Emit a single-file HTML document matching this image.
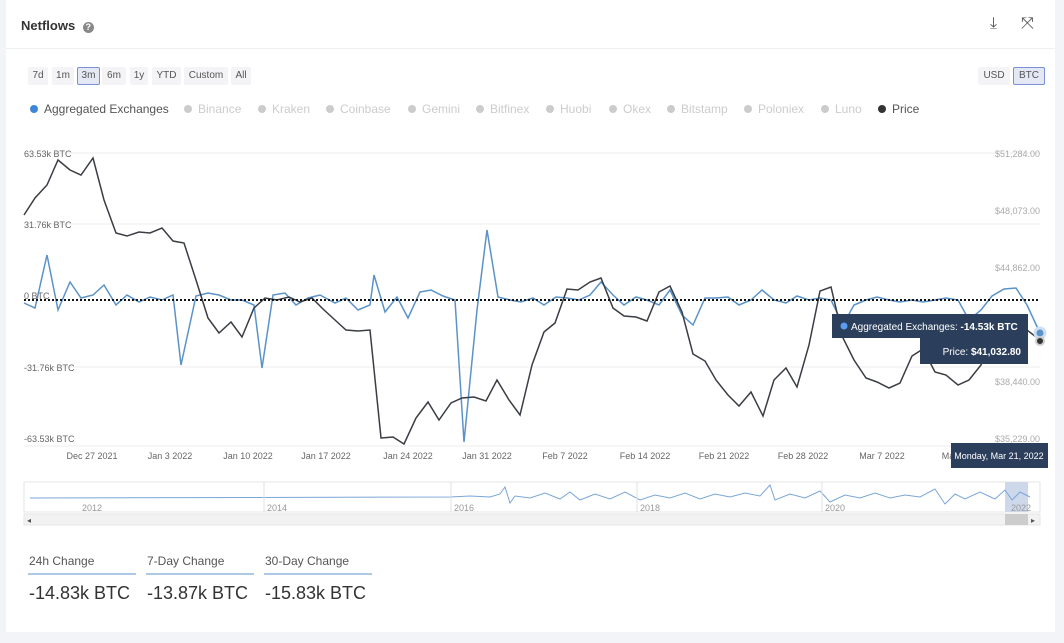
<!DOCTYPE html><html><head><style>
body{margin:0;background:#f3f4f8;font-family:"Liberation Sans",sans-serif;}
.card{position:absolute;left:6px;top:0;width:1049px;height:632px;background:#fff;}
.t{position:absolute;white-space:nowrap}
.btn{position:absolute;top:67px;height:18px;font-size:10px;color:#555;background:#f4f4f6;line-height:18px;text-align:center;border-radius:2px}
.lg{position:absolute;top:102px;font-size:12px;color:#ccc;white-space:nowrap}
.lg i{display:inline-block;width:8px;height:8px;border-radius:50%;background:#ccc;margin-right:6px}
</style></head><body>
<div class="card"></div>
<div style="position:absolute;left:6px;top:48px;width:1049px;height:1px;background:#eef0f3"></div>
<div class="t" style="left:21px;top:18px;font-size:13px;font-weight:bold;color:#333">Netflows <span style="display:inline-block;width:11px;height:11px;border-radius:50%;background:#888;color:#fff;font-size:9px;text-align:center;line-height:11px;margin-left:4px">?</span></div>
<div class="t" style="left:990px;top:15px;font-size:16px;color:#555">⤓</div>
<div class="t" style="left:1021px;top:15px;font-size:16px;color:#555">⤧</div>
<div class="btn" style="left:28px;width:20px">7d</div>
<div class="btn" style="left:52px;width:22px">1m</div>
<div class="btn" style="left:77px;width:21px;background:#e4e8f5;border:1px solid #7b8fd6;height:16px;line-height:16px">3m</div>
<div class="btn" style="left:102px;width:24px">6m</div>
<div class="btn" style="left:130px;width:18px">1y</div>
<div class="btn" style="left:152px;width:29px">YTD</div>
<div class="btn" style="left:184px;width:44px">Custom</div>
<div class="btn" style="left:231px;width:20px">All</div>
<div class="btn" style="left:978px;width:32px">USD</div>
<div class="btn" style="left:1013px;width:30px;background:#e4e8f5;border:1px solid #7b8fd6;height:16px;line-height:16px">BTC</div>
<div class="lg" style="left:30px;color:#555"><i style="background:#3d85d8"></i>Aggregated Exchanges</div>
<div class="lg" style="left:184px"><i></i>Binance</div>
<div class="lg" style="left:258px"><i></i>Kraken</div>
<div class="lg" style="left:326px"><i></i>Coinbase</div>
<div class="lg" style="left:408px"><i></i>Gemini</div>
<div class="lg" style="left:476px"><i></i>Bitfinex</div>
<div class="lg" style="left:546px"><i></i>Huobi</div>
<div class="lg" style="left:609px"><i></i>Okex</div>
<div class="lg" style="left:667px"><i></i>Bitstamp</div>
<div class="lg" style="left:744px"><i></i>Poloniex</div>
<div class="lg" style="left:821px"><i></i>Luno</div>
<div class="lg" style="left:878px;color:#555"><i style="background:#333"></i>Price</div>
<svg width="1064" height="643" style="position:absolute;left:0;top:0">
<g stroke="#eee"><line x1="24" x2="1040" y1="153" y2="153"/><line x1="24" x2="1040" y1="224" y2="224"/><line x1="24" x2="1040" y1="367" y2="367"/><line x1="24" x2="1040" y1="446" y2="446"/></g>
<g font-size="9" fill="#666"><text x="24" y="157">63.53k BTC</text><text x="24" y="228">31.76k BTC</text><text x="24" y="299">0 BTC</text><text x="24" y="371">-31.76k BTC</text><text x="24" y="442">-63.53k BTC</text></g>
<g font-size="9" fill="#aaa" text-anchor="end"><text x="1040" y="157">$51,284.00</text><text x="1040" y="214">$48,073.00</text><text x="1040" y="271">$44,862.00</text><text x="1040" y="385">$38,440.00</text><text x="1040" y="442">$35,229.00</text></g>
<g font-size="9" fill="#666" text-anchor="middle"><text x="92" y="459">Dec 27 2021</text><text x="170" y="459">Jan 3 2022</text><text x="248" y="459">Jan 10 2022</text><text x="326" y="459">Jan 17 2022</text><text x="408" y="459">Jan 24 2022</text><text x="487" y="459">Jan 31 2022</text><text x="565" y="459">Feb 7 2022</text><text x="645" y="459">Feb 14 2022</text><text x="724" y="459">Feb 21 2022</text><text x="803" y="459">Feb 28 2022</text><text x="882" y="459">Mar 7 2022</text><text x="948" y="459">Ma</text></g>
<polyline fill="none" stroke="#5b93c9" stroke-width="1.5" points="24,303 35,308 47,255 58,310 70,282 81,298 93,295 104,285 116,305 127,295 139,302 150,297 162,300 173,295 181,365 196,296 208,293 219,295 231,300 242,300 254,305 262,368 273,295 285,293 296,305 308,298 320,295 335,303 346,298 358,310 370,305 374,275 385,312 397,297 408,318 420,292 431,290 443,296 455,300 464,442 477,310 487,230 498,297 510,300 521,302 533,298 544,305 556,297 567,298 579,300 590,295 601,282 613,295 624,305 636,297 647,300 659,305 670,290 682,315 693,325 705,298 716,298 728,297 739,305 751,300 762,290 774,300 786,303 797,296 809,300 820,298 831,300 843,325 854,305 866,300 877,297 889,300 900,302 912,300 923,302 935,300 946,298 958,300 969,320 981,310 992,296 1004,289 1016,288 1027,305 1040,333"/>
<polyline fill="none" stroke="#3a3d44" stroke-width="1.5" points="24,215 35,198 47,185 58,160 70,170 81,175 93,158 104,200 116,233 127,236 139,232 150,233 162,228 173,241 184,243 196,280 208,318 219,333 231,322 242,337 254,308 265,298 277,300 289,297 300,302 312,298 323,309 335,320 346,330 358,331 370,330 381,438 393,437 404,444 416,418 428,402 439,420 451,403 462,398 474,397 486,401 497,380 509,400 520,415 532,365 544,332 555,323 567,289 578,290 590,282 601,278 613,308 624,316 636,317 647,321 659,292 670,286 682,312 693,354 705,361 716,380 728,395 739,406 751,392 763,416 774,380 786,368 797,387 809,345 820,291 831,287 843,338 854,360 866,378 877,382 889,388 900,383 912,356 923,349 935,372 946,375 958,385 969,380 981,365 992,330 1004,320 1016,327 1027,330 1040,340"/>
<line x1="24" x2="1040" y1="300" y2="300" stroke="#111" stroke-width="2" stroke-dasharray="2,2"/>
<circle cx="1040" cy="333" r="5" fill="#5b93c9" stroke="#cfe0f5" stroke-width="3"/>
<circle cx="1040" cy="341" r="4" fill="#333" stroke="#ccc" stroke-width="2"/>
<rect x="832" y="314" width="196" height="24" fill="#2b3f5c"/>
<circle cx="844" cy="326" r="3.5" fill="#5b9cf0"/>
<text x="851" y="330" font-size="10" fill="#fff">Aggregated Exchanges: <tspan font-weight="bold">-14.53k BTC</tspan></text>
<rect x="920" y="338" width="108" height="26" fill="#2b3f5c"/>
<text x="1021" y="355" font-size="10" fill="#fff" text-anchor="end">Price: <tspan font-weight="bold">$41,032.80</tspan></text>
<rect x="951" y="443" width="97" height="25" fill="#2b3f5c"/>
<text x="999" y="459" font-size="9" fill="#fff" text-anchor="middle">Monday, Mar 21, 2022</text>
<rect x="24" y="482" width="1016" height="30" fill="#fff" stroke="#e6e6e6"/>
<rect x="1005" y="482" width="23" height="30" fill="#cdd8ea"/>
<polyline fill="none" stroke="#7aa6d8" stroke-width="1" points="30,498 450,497 470,496 490,497 500,494 505,487 510,503 515,496 530,498 545,493 560,499 570,492 580,500 595,494 610,499 625,492 640,500 655,495 670,498 685,493 700,499 715,494 730,497 745,493 760,496 770,485 775,500 790,494 805,498 820,491 830,502 845,495 860,498 875,493 890,498 905,495 920,497 935,489 945,504 955,494 965,499 980,492 995,499 1005,490 1012,500 1020,492 1030,497"/>
<g font-size="9" fill="#999"><text x="82" y="511">2012</text><text x="267" y="511">2014</text><text x="454" y="511">2016</text><text x="640" y="511">2018</text><text x="825" y="511">2020</text><text x="1011" y="511">2022</text></g>
<g stroke="#e0e0e0"><line x1="264" x2="264" y1="482" y2="512"/><line x1="451" x2="451" y1="482" y2="512"/><line x1="637" x2="637" y1="482" y2="512"/><line x1="822" x2="822" y1="482" y2="512"/></g>
<rect x="24" y="514" width="1016" height="11" fill="#f2f2f2" stroke="#e6e6e6"/>
<rect x="1005" y="514" width="23" height="11" fill="#ccc"/>
<text x="27" y="523" font-size="8" fill="#555">◂</text><text x="1031" y="523" font-size="8" fill="#555">▸</text>
<g stroke="#5b93c9"><line x1="28" x2="136" y1="574" y2="574"/><line x1="146" x2="254" y1="574" y2="574"/><line x1="264" x2="372" y1="574" y2="574"/></g>
</svg>
<div class="t" style="left:29px;top:554px;font-size:12px;color:#555">24h Change</div>
<div class="t" style="left:147px;top:554px;font-size:12px;color:#555">7-Day Change</div>
<div class="t" style="left:265px;top:554px;font-size:12px;color:#555">30-Day Change</div>
<div class="t" style="left:29px;top:583px;font-size:18px;color:#333">-14.83k BTC</div>
<div class="t" style="left:147px;top:583px;font-size:18px;color:#333">-13.87k BTC</div>
<div class="t" style="left:265px;top:583px;font-size:18px;color:#333">-15.83k BTC</div>
</body></html>
